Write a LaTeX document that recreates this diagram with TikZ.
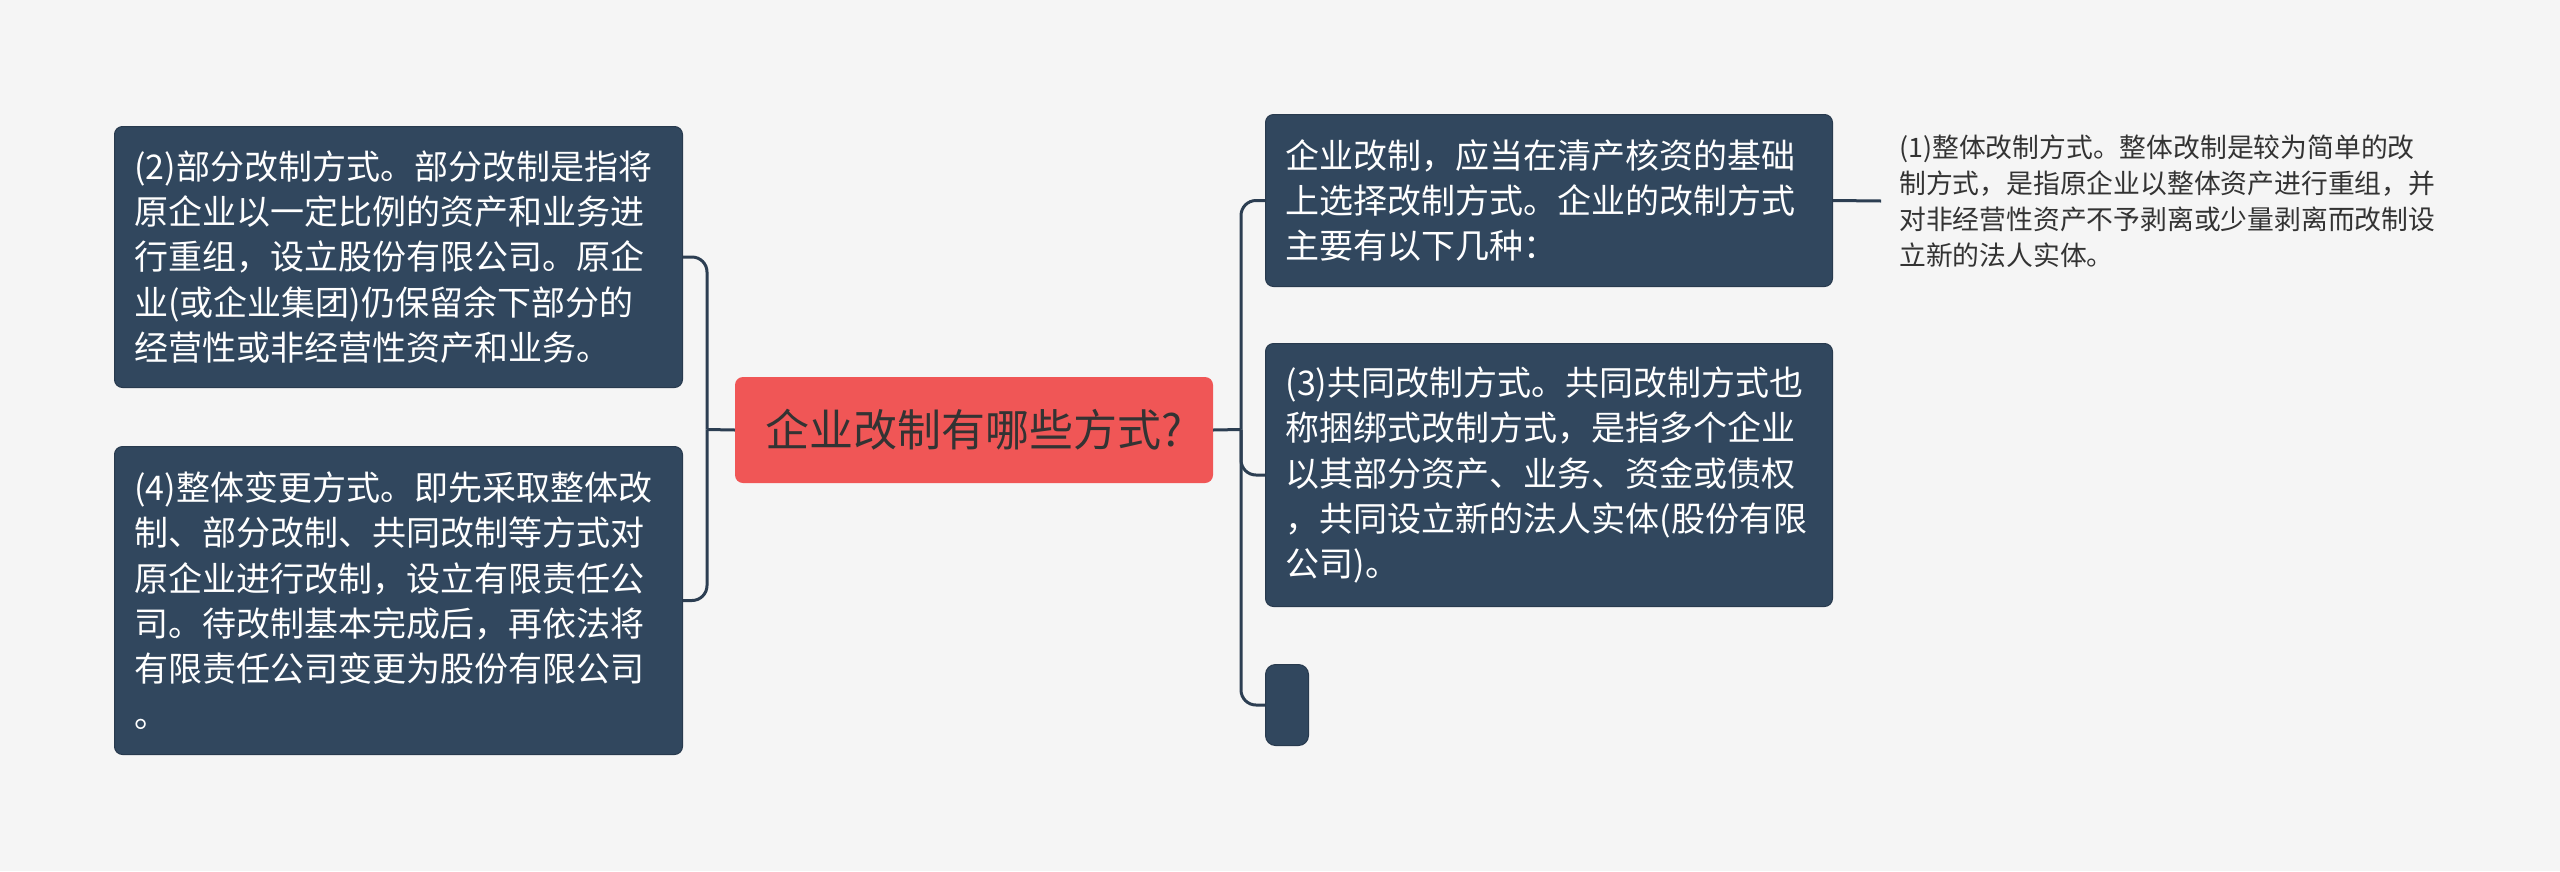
\documentclass[tikz,border=0pt]{standalone}
\usepackage{fontspec}
\setmainfont{Noto Sans CJK SC}
\definecolor{bg}{RGB}{245,245,245}
\definecolor{boxfill}{RGB}{49,71,94}
\definecolor{boxline}{RGB}{40,58,78}
\definecolor{connc}{RGB}{44,62,82}
\definecolor{redc}{RGB}{240,86,86}
\definecolor{textdark}{RGB}{51,51,51}
\begin{document}
\begin{tikzpicture}[x=1pt,y=-1pt,
  box/.style={draw=boxline, line width=1pt, fill=boxfill, rounded corners=8pt,
    text=white, align=left, inner sep=0pt, anchor=north west,
    font=\fontsize{34}{45.3}\selectfont},
  conn/.style={draw=connc, line width=3pt},
  turn/.style={conn, rounded corners=15pt},
]
\useasboundingbox[fill=bg] (0,0) rectangle (2560,871);

% central node
\node[fill=redc, rounded corners=8pt, minimum width=478, minimum height=106,
  inner sep=0pt, text=textdark, font=\fontsize{44}{50}\selectfont] (c) at (974,430) {企业改制有哪些方式?};

% left boxes
\node[box, minimum width=568, minimum height=261, text width=528] (b2) at (114,126)
 {(2)部分改制方式。部分改制是指将\\原企业以一定比例的资产和业务进\\行重组，设立股份有限公司。原企\\业(或企业集团)仍保留余下部分的\\经营性或非经营性资产和业务。};
\node[box, minimum width=568, minimum height=308, text width=528] (b4) at (114,446)
 {(4)整体变更方式。即先采取整体改\\制、部分改制、共同改制等方式对\\原企业进行改制，设立有限责任公\\司。待改制基本完成后，再依法将\\有限责任公司变更为股份有限公司\\。};

% right boxes
\node[box, minimum width=567, minimum height=172, text width=527] (t1) at (1265,114)
 {企业改制，应当在清产核资的基础\\上选择改制方式。企业的改制方式\\主要有以下几种：};
\node[box, minimum width=567, minimum height=263, text width=527] (b3) at (1265,343)
 {(3)共同改制方式。共同改制方式也\\称捆绑式改制方式，是指多个企业\\以其部分资产、业务、资金或债权\\，共同设立新的法人实体(股份有限\\公司)。};
\node[box, rounded corners=10pt, minimum width=43, minimum height=81] (e) at (1265,664) {};

% text (1)
\node[anchor=west, inner ysep=0pt, inner xsep=18pt, align=left, text=textdark,
  font=\fontsize{26.8}{36}\selectfont] (n1) at (1881,201)
 {(1)整体改制方式。整体改制是较为简单的改\\制方式，是指原企业以整体资产进行重组，并\\对非经营性资产不予剥离或少量剥离而改制设\\立新的法人实体。};

% connectors
\coordinate (jl) at (707,429.5);
\coordinate (jr) at (1241,429.5);
\draw[conn] (c.west) -- (jl);
\draw[turn] (jl) |- (b2.east);
\draw[turn] (jl) |- (b4.east);
\draw[conn] (c.east) -- (jr);
\draw[turn] (jr) |- (t1.west);
\draw[turn] (jr) |- (b3.west);
\draw[turn] (jr) |- (e.west);
\draw[conn] (t1.east) -- (n1.west);
\end{tikzpicture}
\end{document}
